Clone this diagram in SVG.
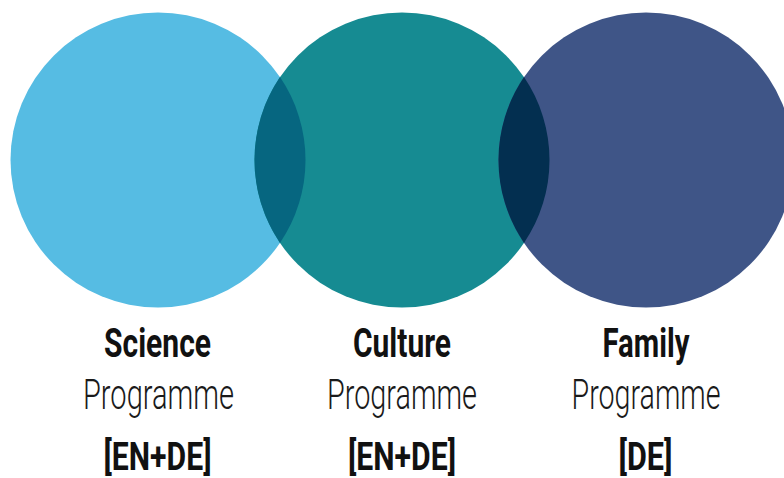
<svg xmlns="http://www.w3.org/2000/svg" width="784" height="478" viewBox="0 0 784 478">
<style>
.title{font-family:Roboto,"Liberation Sans",sans-serif;font-weight:700;font-size:40px;fill:#111;text-anchor:middle}
.sub{font-family:Roboto,"Liberation Sans",sans-serif;font-weight:300;font-size:42px;fill:#1a1a1a;text-anchor:middle}
.lang{font-family:Roboto,"Liberation Sans",sans-serif;font-weight:700;font-size:38px;fill:#111;text-anchor:middle}
</style>
<rect width="784" height="478" fill="#fff"/>
<g id="science">
<circle cx="158" cy="160" r="147.5" fill="#56BCE3"/>
</g>
<g id="culture">
<circle cx="402" cy="160" r="147.5" fill="#168B92"/>
</g>
<g id="family">
<circle cx="646" cy="160" r="147.5" fill="#3F5587"/>
</g>
<g id="overlaps">
<path d="M280,77.1 A147.5,147.5 0 0 1 280,242.9 A147.5,147.5 0 0 1 280,77.1 Z" fill="#066680"/>
<path d="M524,77.1 A147.5,147.5 0 0 1 524,242.9 A147.5,147.5 0 0 1 524,77.1 Z" fill="#032F50"/>
</g>
<g id="science-label">
<text class="title" x="157.5" y="357" textLength="107" lengthAdjust="spacingAndGlyphs">Science</text>
<text class="sub" x="158.5" y="409" textLength="151" lengthAdjust="spacingAndGlyphs">Programme</text>
<text class="lang" x="157.5" y="470" textLength="108" lengthAdjust="spacingAndGlyphs">[EN+DE]</text>
</g>
<g id="culture-label">
<text class="title" x="402" y="357" textLength="98" lengthAdjust="spacingAndGlyphs">Culture</text>
<text class="sub" x="402" y="409" textLength="150" lengthAdjust="spacingAndGlyphs">Programme</text>
<text class="lang" x="402" y="470" textLength="108" lengthAdjust="spacingAndGlyphs">[EN+DE]</text>
</g>
<g id="family-label">
<text class="title" x="646" y="357" textLength="87" lengthAdjust="spacingAndGlyphs">Family</text>
<text class="sub" x="646" y="409" textLength="149" lengthAdjust="spacingAndGlyphs">Programme</text>
<text class="lang" x="645.5" y="470" textLength="54" lengthAdjust="spacingAndGlyphs">[DE]</text>
</g>
</svg>
